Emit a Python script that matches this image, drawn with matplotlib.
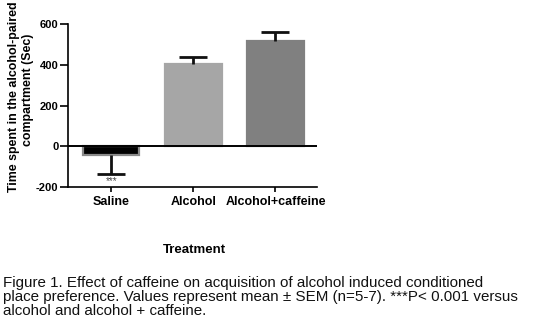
import matplotlib
matplotlib.use("Agg")
import matplotlib.pyplot as plt

plt.rcParams['font.family'] = ['Liberation Sans', 'DejaVu Sans']

# Data
categories = ["Saline", "Alcohol", "Alcohol+caffeine"]
means = [-43, 405, 515]
sems = [92, 32, 47]
bar_colors = ["#000000", "#a6a6a6", "#808080"]
edge_colors = ["#8a8a8a", "#a6a6a6", "#808080"]
y_ticks = [-200, 0, 200, 400, 600]

W, H = 539, 330
fig = plt.figure(figsize=(W / 100, H / 100), dpi=100)
ax = fig.add_axes([68 / W, 1 - 187 / H, (317 - 68) / W, (187 - 24) / H])

x = list(range(len(categories)))
ax.bar(x, means, width=0.69, color=bar_colors, edgecolor=edge_colors,
       linewidth=1.6, zorder=2)

# one-sided error bars (pointing away from zero) with a single cap
for xi, m, s in zip(x, means, sems):
    end = m - s if m < 0 else m + s
    ax.plot([xi, xi], [m, end], color='#111111', linewidth=2,
            solid_capstyle='butt', zorder=3)
    ax.plot([xi], [end], marker='_', markersize=19.5, markeredgewidth=2,
            color='#111111', zorder=3)

ax.axhline(0, color='black', linewidth=1.4, zorder=4)

ax.set_xlim(-0.523, 2.505)
ax.set_ylim(-200, 600)
ax.set_yticks(y_ticks)
ax.set_yticklabels([str(v) for v in y_ticks], fontsize=8, fontweight='bold')
ax.set_xticks(x)
ax.set_xticklabels(categories, fontsize=9, fontweight='bold')

for side in ['top', 'right']:
    ax.spines[side].set_visible(False)
for side in ['left', 'bottom']:
    ax.spines[side].set_linewidth(1.2)
ax.tick_params(axis='y', length=5.5, width=1.2, pad=1.5)
ax.tick_params(axis='x', length=3.5, width=1.2, pad=3)

# significance marker under the saline bar
ax.text(0.01, means[0] - sems[0] - 34, "***", ha='center', va='center',
        fontsize=7, color='#444444')

# y-axis title, two centred lines
fig.text(14 / W, 1 - 97 / H, "Time spent in the alcohol-paired",
         rotation=90, ha='center', va='center', fontsize=8.9, fontweight='bold')
fig.text(28 / W, 1 - 90 / H, "compartment (Sec)",
         rotation=90, ha='center', va='center', fontsize=8.9, fontweight='bold')

fig.text(194 / W, 1 - 250 / H, "Treatment", ha='center', va='center',
         fontsize=9.5, fontweight='bold')

caption = ("Figure 1. Effect of caffeine on acquisition of alcohol induced conditioned\n"
           "place preference. Values represent mean \u00b1 SEM (n=5-7). ***P< 0.001 versus\n"
           "alcohol and alcohol + caffeine.")
fig.text(3 / W, 1 - 276 / H, caption, ha='left', va='top', fontsize=10.9,
         linespacing=0.98, color='#111111')

fig.savefig("out.png", dpi=100)
